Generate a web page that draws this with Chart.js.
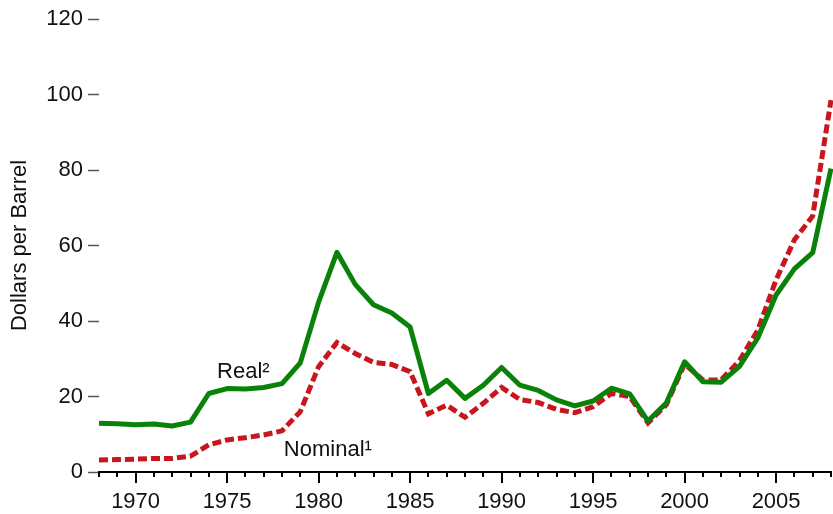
<!DOCTYPE html>
<html>
<head>
<meta charset="utf-8">
<script src="https://cdn.jsdelivr.net/npm/chart.js@4.4.1/dist/chart.umd.min.js"></script>
<style>
  html, body { margin: 0; padding: 0; background: #ffffff; }
  #wrap { width: 833px; height: 514px; }
</style>
</head>
<body>
<div id="wrap"><canvas id="c" width="833" height="514"></canvas></div>
<script>
// ---- Data ----
const years = [1968,1969,1970,1971,1972,1973,1974,1975,1976,1977,1978,1979,1980,1981,1982,1983,1984,1985,1986,1987,1988,1989,1990,1991,1992,1993,1994,1995,1996,1997,1998,1999,2000,2001,2002,2003,2004,2005,2006,2007,2008];
const real = [12.9,12.8,12.5,12.7,12.2,13.2,20.8,22.1,22.0,22.4,23.4,28.9,45.0,58.2,49.7,44.3,42.1,38.4,20.8,24.3,19.5,23.0,27.7,23.0,21.6,19.1,17.5,18.8,22.2,20.7,13.5,18.3,29.2,23.9,23.8,28.0,35.5,46.9,53.8,58.1,80.4];
const nominal = [3.2,3.3,3.4,3.6,3.6,4.2,7.2,8.5,9.1,9.8,10.9,16.0,27.9,34.3,31.4,29.0,28.5,26.6,15.4,17.7,14.5,18.2,22.4,19.2,18.4,16.6,15.7,17.3,20.8,20.0,13.0,17.8,28.6,24.4,24.4,29.5,37.6,50.9,61.5,67.8,98.5];
const yTickValues = [0,20,40,60,80,100,120];
const xTickLabels = [1970,1975,1980,1985,1990,1995,2000,2005];
const seriesNames = ['Real\u00B2', 'Nominal\u00B9'];

// ---- Styles / label anchors (in data units) ----
const GREEN = '#0a820a';
const RED = '#c8161e';
const FONT = '"Liberation Sans", Arial, sans-serif';
const labelAnchors = [
  { text: seriesNames[0], x: 1974.45, y: 24.9 },
  { text: seriesNames[1], x: 1978.1, y: 4.2 }
];

const toPts = arr => years.map((yr, i) => ({ x: yr, y: arr[i] }));

const xTicksPlugin = {
  id: 'xTicksPlugin',
  afterDraw(chart) {
    const ctx = chart.ctx;
    const xs = chart.scales.x;
    const base = chart.chartArea.bottom;
    ctx.save();
    ctx.strokeStyle = '#000';
    ctx.lineWidth = 2;
    years.forEach(yr => {
      const px = Math.round(xs.getPixelForValue(yr));
      const len = xTickLabels.includes(yr) ? 11 : 5;
      ctx.beginPath();
      ctx.moveTo(px, base);
      ctx.lineTo(px, base + len);
      ctx.stroke();
    });
    ctx.restore();
  }
};

const seriesLabelPlugin = {
  id: 'seriesLabelPlugin',
  afterDatasetsDraw(chart) {
    const ctx = chart.ctx;
    const xs = chart.scales.x, ys = chart.scales.y;
    ctx.save();
    ctx.font = '22px ' + FONT;
    ctx.fillStyle = '#111';
    ctx.textAlign = 'left';
    ctx.textBaseline = 'alphabetic';
    labelAnchors.forEach(l => {
      ctx.fillText(l.text, xs.getPixelForValue(l.x), ys.getPixelForValue(l.y));
    });
    ctx.restore();
  }
};

new Chart(document.getElementById('c'), {
  type: 'line',
  data: {
    datasets: [
      {
        label: seriesNames[0],
        data: toPts(real),
        borderColor: GREEN,
        borderWidth: 5,
        pointRadius: 0,
        tension: 0,
        fill: false,
        clip: false,
        borderJoinStyle: 'round'
      },
      {
        label: seriesNames[1],
        data: toPts(nominal),
        borderColor: RED,
        borderWidth: 5,
        borderDash: [9, 4],
        pointRadius: 0,
        tension: 0,
        fill: false,
        clip: false
      }
    ]
  },
  options: {
    responsive: false,
    animation: false,
    layout: { padding: { top: 19, right: 2, left: 0, bottom: 0 } },
    plugins: { legend: { display: false }, tooltip: { enabled: false } },
    scales: {
      x: {
        type: 'linear',
        min: 1968,
        max: 2008,
        afterFit(scale) { scale.height = 42; scale.paddingLeft = 0; scale.paddingRight = 0; },
        afterBuildTicks(scale) { scale.ticks = years.map(v => ({ value: v })); },
        ticks: {
          autoSkip: false,
          maxRotation: 0,
          padding: 17,
          color: '#111',
          font: { size: 22, family: FONT },
          callback: v => xTickLabels.includes(v) ? String(v) : ''
        },
        grid: { display: false, drawTicks: false },
        border: { display: true, color: '#000', width: 2 }
      },
      y: {
        min: 0,
        max: 120,
        afterFit(scale) { scale.width = 99; scale.paddingTop = 0; scale.paddingBottom = 0; },
        afterBuildTicks(scale) { scale.ticks = yTickValues.map(v => ({ value: v })); },
        ticks: {
          padding: 5,
          color: '#111',
          font: { size: 22, family: FONT }
        },
        grid: {
          display: true,
          drawOnChartArea: false,
          drawTicks: true,
          tickLength: 11,
          tickColor: '#555',
          tickWidth: 1.5
        },
        border: { display: false },
        title: {
          display: true,
          text: 'Dollars per Barrel',
          color: '#111',
          font: { size: 22, family: FONT },
          padding: { top: 7, bottom: 0 }
        }
      }
    }
  },
  plugins: [xTicksPlugin, seriesLabelPlugin]
});
</script>
</body>
</html>
